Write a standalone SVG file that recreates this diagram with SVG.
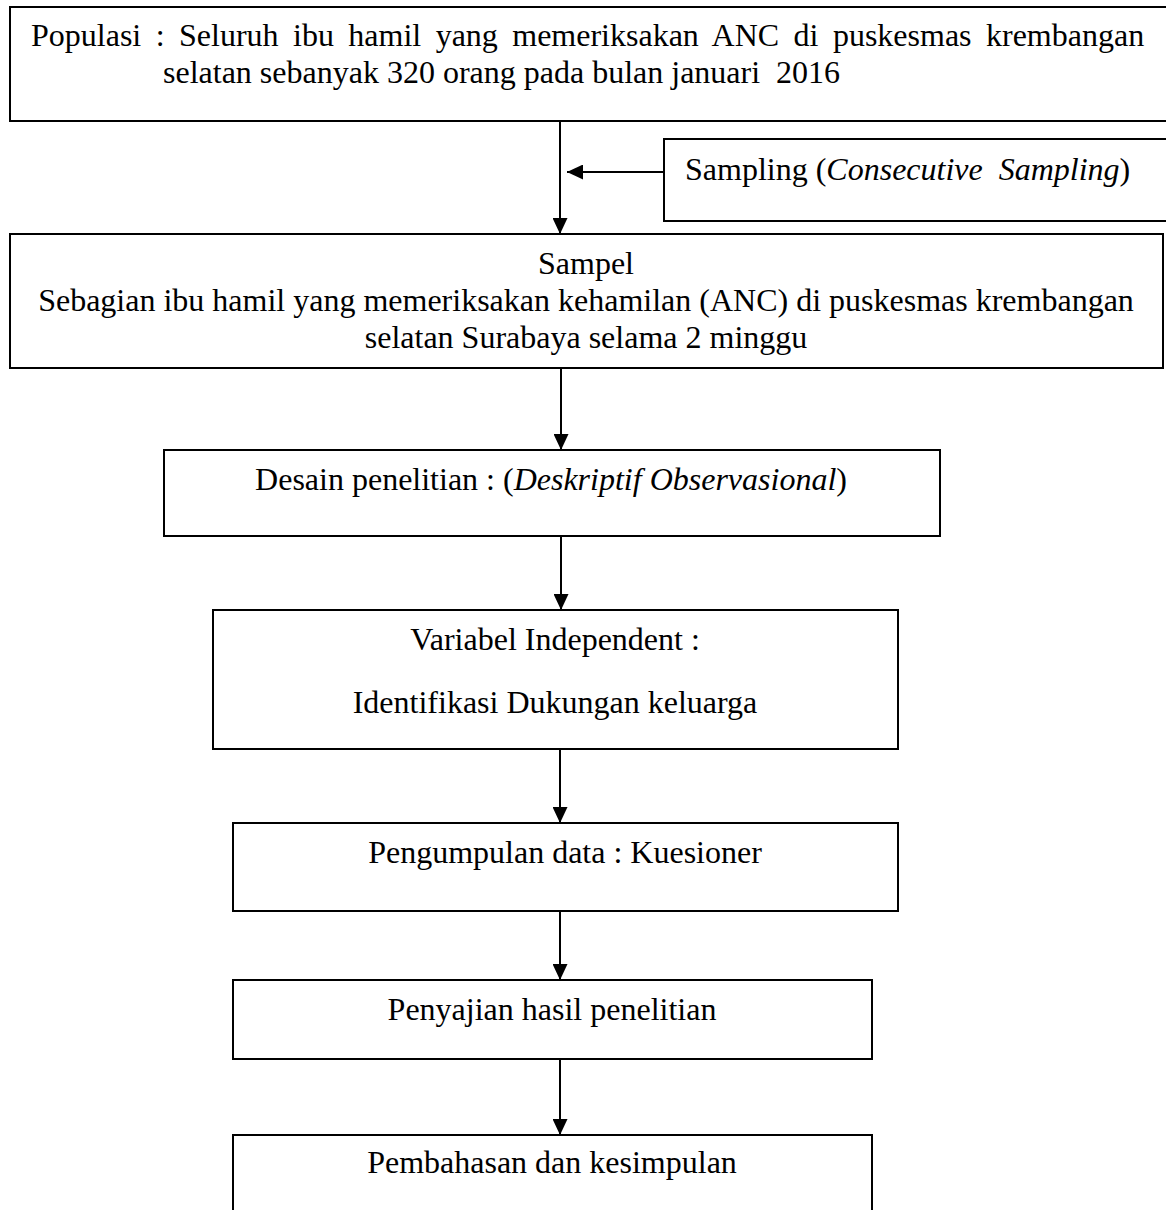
<svg xmlns="http://www.w3.org/2000/svg" width="1166" height="1210" viewBox="0 0 1166 1210">
<style>
.box{fill:#fff;stroke:#000;stroke-width:2}
.t{font-family:"Liberation Serif","Times New Roman",serif;font-size:32px;fill:#000}
.c{text-anchor:middle}
.i{font-style:italic}
.con{fill:none;stroke:#000;stroke-width:2}
</style>
<defs>
<marker id="ah" markerUnits="userSpaceOnUse" markerWidth="16" markerHeight="15" refX="16" refY="7.5" orient="auto">
<path d="M0,0 L16,7.5 L0,15 z" fill="#000"/>
</marker>
</defs>
<rect width="1166" height="1210" fill="#fff"/>
<g id="populasi">
<rect class="box" x="10" y="7" width="1180" height="114"/>
<text class="t" x="31" y="46" word-spacing="6.44">Populasi : Seluruh ibu hamil yang memeriksakan ANC di puskesmas krembangan</text>
<text class="t" x="163" y="83" xml:space="preserve">selatan sebanyak 320 orang pada bulan januari  2016</text>
</g>
<g id="sampling">
<rect class="box" x="664" y="139" width="520" height="82"/>
<text class="t" x="685" y="180" xml:space="preserve">Sampling (<tspan class="i">Consecutive  Sampling</tspan>)</text>
</g>
<g id="sampel">
<rect class="box" x="10" y="234" width="1153" height="134"/>
<text class="t c" x="586" y="274">Sampel</text>
<text class="t c" x="586" y="311">Sebagian ibu hamil yang memeriksakan kehamilan (ANC) di puskesmas krembangan</text>
<text class="t c" x="586" y="348">selatan Surabaya selama 2 minggu</text>
</g>
<g id="desain">
<rect class="box" x="164" y="450" width="776" height="86"/>
<text class="t c" x="551" y="490">Desain penelitian : (<tspan class="i">Deskriptif Observasional</tspan>)</text>
</g>
<g id="variabel">
<rect class="box" x="213" y="610" width="685" height="139"/>
<text class="t c" x="555" y="650">Variabel Independent :</text>
<text class="t c" x="555" y="713">Identifikasi Dukungan keluarga</text>
</g>
<g id="pengumpulan">
<rect class="box" x="233" y="823" width="665" height="88"/>
<text class="t c" x="565" y="863">Pengumpulan data : Kuesioner</text>
</g>
<g id="penyajian">
<rect class="box" x="233" y="980" width="639" height="79"/>
<text class="t c" x="552" y="1020">Penyajian hasil penelitian</text>
</g>
<g id="pembahasan">
<rect class="box" x="233" y="1135" width="639" height="120"/>
<text class="t c" x="552" y="1173">Pembahasan dan kesimpulan</text>
</g>
<g id="connectors">
<path class="con" d="M560,121 V234" marker-end="url(#ah)"/>
<path class="con" d="M664,172 H567" stroke-width="2.5" marker-end="url(#ah)"/>
<path class="con" d="M561,368 V450" marker-end="url(#ah)"/>
<path class="con" d="M561,536 V610" marker-end="url(#ah)"/>
<path class="con" d="M560,749 V823" marker-end="url(#ah)"/>
<path class="con" d="M560,911 V980" marker-end="url(#ah)"/>
<path class="con" d="M560,1059 V1135" marker-end="url(#ah)"/>
</g>
</svg>
